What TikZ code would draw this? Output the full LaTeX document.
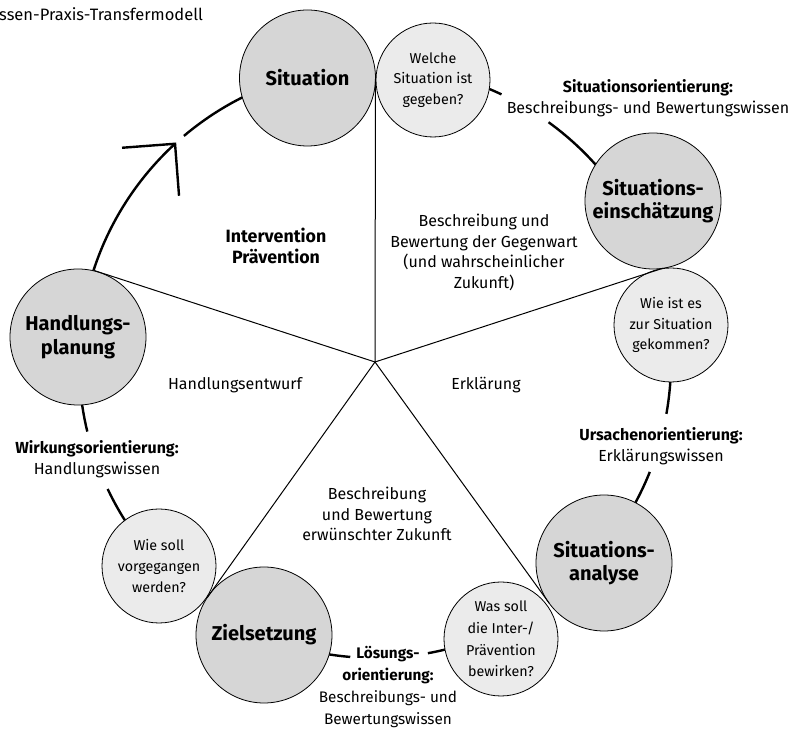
\documentclass[tikz,border=0pt]{standalone}
\usepackage{fontspec}
\setmainfont{Fira Sans}
\usetikzlibrary{calc}
\definecolor{bigfill}{HTML}{D6D6D6}
\definecolor{smallfill}{HTML}{EBEBEB}
\begin{document}
\begin{tikzpicture}[x=1pt,y=1pt,
  bigc/.style={circle, draw=black, line width=0.8pt, fill=bigfill, minimum size=136pt,
    inner sep=0pt, align=center, font=\fontsize{20}{23.5}\selectfont\bfseries},
  smallc/.style={circle, draw=black, line width=0.8pt, fill=smallfill, minimum size=114pt,
    inner sep=0pt, align=center, font=\fontsize{14.3}{20.8}\selectfont},
  ring/.style={line width=2.4pt},
  spoke/.style={line width=1pt},
  lbl/.style={align=center, inner sep=0pt, font=\fontsize{16}{20.5}\selectfont},
  blbl/.style={align=center, inner sep=0pt, font=\fontsize{17.8}{21.7}\selectfont\bfseries}]

\useasboundingbox (0,0) rectangle (796,730);

% centre of the cycle
\coordinate (O) at (375,368);

% title
\node[anchor=west, inner sep=0pt, font=\fontsize{16.5}{18}\selectfont] (title) at (-1,716) {ssen-Praxis-Transfermodell};

% outer cycle (drawn first, circles cover the ends)
\draw[ring] ($(O)+(164:296)$) arc[start angle=164, end angle=132.5, radius=296] coordinate (tip);
\draw[ring, line join=miter] ($(tip)+(-53,-4)$) -- (tip) -- ($(tip)+(4,-52)$);
\draw[ring] ($(O)+(130.2:296)$) arc[start angle=130.2, end angle=114, radius=296];
\draw[ring] ($(O)+(70:296)$) arc[start angle=70, end angle=64.7, radius=296];
\draw[ring] ($(O)+(54.1:296)$) arc[start angle=54.1, end angle=38, radius=296];
\draw[ring] ($(O)+(-2:296)$) arc[start angle=-2, end angle=-10.1, radius=296];
\draw[ring] ($(O)+(-21.8:296)$) arc[start angle=-21.8, end angle=-32, radius=296];
\draw[ring] ($(O)+(-73:296)$) arc[start angle=-73, end angle=-79.7, radius=296];
\draw[ring] ($(O)+(-94.8:296)$) arc[start angle=-94.8, end angle=-101, radius=296];
\draw[ring] ($(O)+(185:296)$) arc[start angle=185, end angle=193.6, radius=296];
\draw[ring] ($(O)+(205.4:296)$) arc[start angle=205.4, end angle=215, radius=296];

% phases
\node[bigc] (sit)  at (307.5,652) {Situation};
\node[bigc] (ein)  at (653,529)   {Situations-\\einschätzung};
\node[bigc] (ana)  at (604,167)   {Situations-\\analyse};
\node[bigc] (ziel) at (264,95)    {Zielsetzung};
\node[bigc] (hand) at (78,393)    {Handlungs-\\planung};

% guiding questions
\node[smallc] (q1) at (433,650) {Welche\\Situation ist\\gegeben?};
\node[smallc] (q2) at (671,405) {Wie ist es\\zur Situation\\gekommen?};
\node[smallc, font=\fontsize{14.3}{21.8}\selectfont] (q3) at (501,91) {Was soll\\die Inter-/\\Prävention\\bewirken?};
\node[smallc] (q4) at (159,164) {Wie soll\\vorgegangen\\werden?};

% spokes to the contact points
\coordinate (c1) at ($(sit.center)!68pt!(q1.center)$);
\coordinate (c2) at ($(ein.center)!68pt!(q2.center)$);
\coordinate (c3) at ($(ana.center)!68pt!(q3.center)$);
\coordinate (c4) at ($(ziel.center)!68pt!(q4.center)$);
\coordinate (c5) at (hand.76);
\draw[spoke] (O) -- (c1);
\draw[spoke] (O) -- (c2);
\draw[spoke] (O) -- (c3);
\draw[spoke] (O) -- (c4);
\draw[spoke] (O) -- (c5);

% sector texts
\node[blbl] (interv) at (276,484) {Intervention\\Prävention};
\node[lbl] (gegen) at (484,477.5) {Beschreibung und\\Bewertung der Gegenwart\\(und wahrscheinlicher\\Zukunft)};
\node[lbl] (erkl) at (486,345) {Erklärung};
\node[lbl] (entw) at (235,345) {Handlungsentwurf};
\node[lbl] (zuk) at (377,216) {Beschreibung\\und Bewertung\\erwünschter Zukunft};

% orientations along the cycle
\node[lbl] (o1) at (648,632) {\textbf{Situationsorientierung:}\\Beschreibungs- und Bewertungswissen};
\node[lbl] (o2) at (661,284) {\textbf{Ursachenorientierung:}\\Erklärungswissen};
\node[lbl, font=\fontsize{15.3}{21.8}\selectfont] (o3) at (388,43) {\textbf{Lösungs-}\\\textbf{orientierung:}\\Beschreibungs- und\\Bewertungswissen};
\node[lbl] (o4) at (97,271) {\textbf{Wirkungsorientierung:}\\Handlungswissen};

\end{tikzpicture}
\end{document}
